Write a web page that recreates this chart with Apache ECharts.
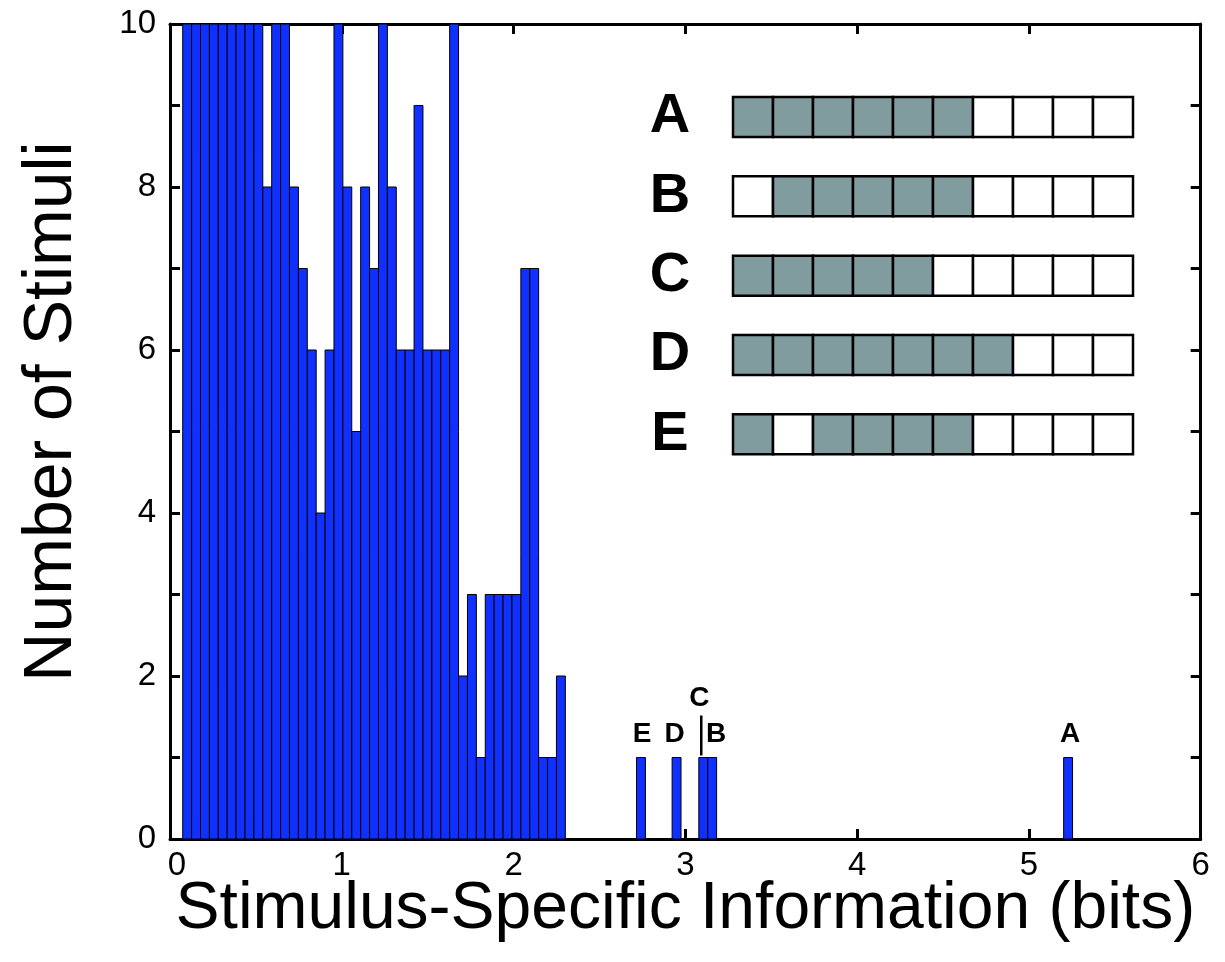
<!DOCTYPE html>
<html>
<head>
<meta charset="utf-8">
<title>Stimulus-Specific Information histogram</title>
<script src="https://cdn.jsdelivr.net/npm/echarts@6/dist/echarts.min.js"></script>
<style>
  html, body { margin: 0; padding: 0; background: #ffffff; }
  #chart { width: 1225px; height: 962px; }
</style>
</head>
<body>
<div id="chart"></div>
<script>
// Histogram bins (bits): first left edge and common width
const binStart = 0.074;
const binWidth = 0.0518;

// Number of stimuli per bin (100 bins); the axis tops out at 10
const binCounts = [
  10, 10, 10, 10, 10, 10, 10, 10, 10, 8,
  10, 10, 8, 7, 6, 4, 6, 10, 8, 5,
  8, 7, 10, 8, 6, 6, 9, 6, 6, 6,
  10, 2, 3, 1, 3, 3, 3, 3, 7, 7,
  1, 1, 2, 0, 0, 0, 0, 0, 0, 0,
  0, 1, 0, 0, 0, 1, 0, 0, 1, 1,
  0, 0, 0, 0, 0, 0, 0, 0, 0, 0,
  0, 0, 0, 0, 0, 0, 0, 0, 0, 0,
  0, 0, 0, 0, 0, 0, 0, 0, 0, 0,
  0, 0, 0, 0, 0, 0, 0, 0, 0, 1
];

// Individual stimuli marked on the histogram (letter -> bin index)
const markedLetters = ['E', 'D', 'C', 'B', 'A'];
const markedBins = [51, 55, 58, 59, 99];

// Stimulus patterns shown in the inset (1 = filled cell)
const patternRows = ['A', 'B', 'C', 'D', 'E'];
const patternA = [1, 1, 1, 1, 1, 1, 0, 0, 0, 0];
const patternB = [0, 1, 1, 1, 1, 1, 0, 0, 0, 0];
const patternC = [1, 1, 1, 1, 1, 0, 0, 0, 0, 0];
const patternD = [1, 1, 1, 1, 1, 1, 1, 0, 0, 0];
const patternE = [1, 0, 1, 1, 1, 1, 0, 0, 0, 0];

// Axis ticks
const xTicks = [0, 1, 2, 3, 4, 5, 6];
const yTickLabels = [0, 2, 4, 6, 8, 10];

const FONT = "'Liberation Sans', Arial, Helvetica, sans-serif";
const BAR_BLUE = '#1030ff';
const CELL_GRAY = '#809c9e';

// Per-letter label nudges: [dx, raise] in pixels
const letterNudge = { E: [1, 0], D: [-2, 0], C: [-4, 36], B: [4, 0], A: [2, 0] };

const histData = binCounts
  .map((c, i) => [binStart + i * binWidth, c, binStart + (i + 1) * binWidth])
  .filter(d => d[1] > 0);

const markData = markedLetters.map((letter, k) => {
  const b = markedBins[k];
  return [binStart + (b + 0.5) * binWidth, binCounts[b], letter];
});

const patterns = [patternA, patternB, patternC, patternD, patternE];
const cellData = [];
patterns.forEach((row, r) => row.forEach((v, c) => cellData.push([c, r, v])));

const frameLine = { show: true, onZero: false, lineStyle: { color: '#000', width: 3 } };
const innerTick = { show: true, inside: true, length: 10, lineStyle: { color: '#000', width: 3 } };

const chart = echarts.init(document.getElementById('chart'), null, { renderer: 'canvas' });

chart.setOption({
  animation: false,
  backgroundColor: '#ffffff',
  textStyle: { fontFamily: FONT },
  grid: [
    { left: 170, right: 24.3, top: 24, bottom: 123 },
    { left: 733, width: 400, top: 77.4, height: 396.5 }
  ],
  xAxis: [
    {
      type: 'value', gridIndex: 0, position: 'bottom', min: 0, max: 6, interval: 1,
      axisLine: frameLine, axisTick: innerTick, splitLine: { show: false },
      axisLabel: {
        color: '#000', fontSize: 33, fontFamily: FONT, margin: 10,
        formatter: v => (xTicks.indexOf(v) < 0 ? '' : (v === 0 ? '{first|0}' : String(v))),
        rich: { first: { fontSize: 33, fontFamily: FONT, color: '#000', padding: [0, 0, 0, 14] } }
      },
      name: 'Stimulus-Specific Information (bits)', nameLocation: 'middle', nameGap: 38,
      nameMoveOverlap: false,
      nameTextStyle: { color: '#000', fontSize: 66, fontFamily: FONT }
    },
    {
      type: 'value', gridIndex: 0, position: 'top', min: 0, max: 6, interval: 1,
      axisLine: frameLine, axisTick: innerTick, axisLabel: { show: false }, splitLine: { show: false }
    },
    {
      type: 'value', gridIndex: 1, min: 0, max: 10, show: false
    }
  ],
  yAxis: [
    {
      type: 'value', gridIndex: 0, position: 'left', min: 0, max: 10, interval: 1,
      axisLine: frameLine, axisTick: innerTick, splitLine: { show: false },
      axisLabel: { color: '#000', fontSize: 33, fontFamily: FONT, margin: 14,
        formatter: v => (yTickLabels.indexOf(v) >= 0 ? String(v) : '') },
      name: 'Number of Stimuli', nameLocation: 'middle', nameGap: 84,
      nameTextStyle: { color: '#000', fontSize: 68, fontFamily: FONT, padding: [0, 0, 0, 40] }
    },
    {
      type: 'value', gridIndex: 0, position: 'right', min: 0, max: 10, interval: 1,
      axisLine: frameLine, axisTick: innerTick, axisLabel: { show: false }, splitLine: { show: false }
    },
    {
      type: 'category', gridIndex: 1, data: patternRows, inverse: true,
      axisLine: { show: false }, axisTick: { show: false }, splitLine: { show: false },
      axisLabel: { color: '#000', fontSize: 56, fontWeight: 'bold', fontFamily: FONT,
        align: 'center', margin: 63 }
    }
  ],
  series: [
    {
      // histogram bars
      type: 'custom', xAxisIndex: 0, yAxisIndex: 0, clip: true,
      encode: { x: [0, 2], y: 1 },
      data: histData,
      renderItem: (params, api) => {
        const top = Math.min(api.value(1), 10);
        const p0 = api.coord([api.value(0), top]);
        const p1 = api.coord([api.value(2), 0]);
        return {
          type: 'rect',
          shape: { x: p0[0], y: p0[1], width: p1[0] - p0[0], height: p1[1] - p0[1] },
          style: { fill: BAR_BLUE, stroke: '#000', lineWidth: 1 }
        };
      }
    },
    {
      // letters naming individual stimuli
      type: 'custom', xAxisIndex: 0, yAxisIndex: 0,
      encode: { x: 0, y: 1 },
      data: markData,
      renderItem: (params, api) => {
        const letter = markData[params.dataIndex][2];
        const nudge = letterNudge[letter] || [0, 0];
        const p = api.coord([api.value(0), api.value(1)]);
        const children = [{
          type: 'text',
          style: {
            text: letter, x: p[0] + nudge[0], y: p[1] - 9 - nudge[1],
            textAlign: 'center', textVerticalAlign: 'bottom',
            font: 'bold 28px ' + FONT, fill: '#000'
          }
        }];
        if (nudge[1] > 0) {
          children.push({
            type: 'line',
            shape: { x1: p[0] - 2, y1: p[1] - 2, x2: p[0] - 2, y2: p[1] - 2 - nudge[1] - 4 },
            style: { stroke: '#000', lineWidth: 2.5 }
          });
        }
        return { type: 'group', children };
      }
    },
    {
      // inset: stimulus patterns as rows of cells
      type: 'custom', xAxisIndex: 2, yAxisIndex: 2,
      encode: { x: 0, y: 1 },
      data: cellData,
      renderItem: (params, api) => {
        const c = api.value(0);
        const r = api.value(1);
        const left = api.coord([c, r]);
        const right = api.coord([c + 1, r]);
        const h = api.size([0, 1])[1] * 0.505;
        return {
          type: 'rect',
          shape: { x: left[0], y: left[1] - h / 2, width: right[0] - left[0], height: h },
          style: { fill: api.value(2) ? CELL_GRAY : '#ffffff', stroke: '#000', lineWidth: 2.5 }
        };
      }
    }
  ]
});
</script>
</body>
</html>
